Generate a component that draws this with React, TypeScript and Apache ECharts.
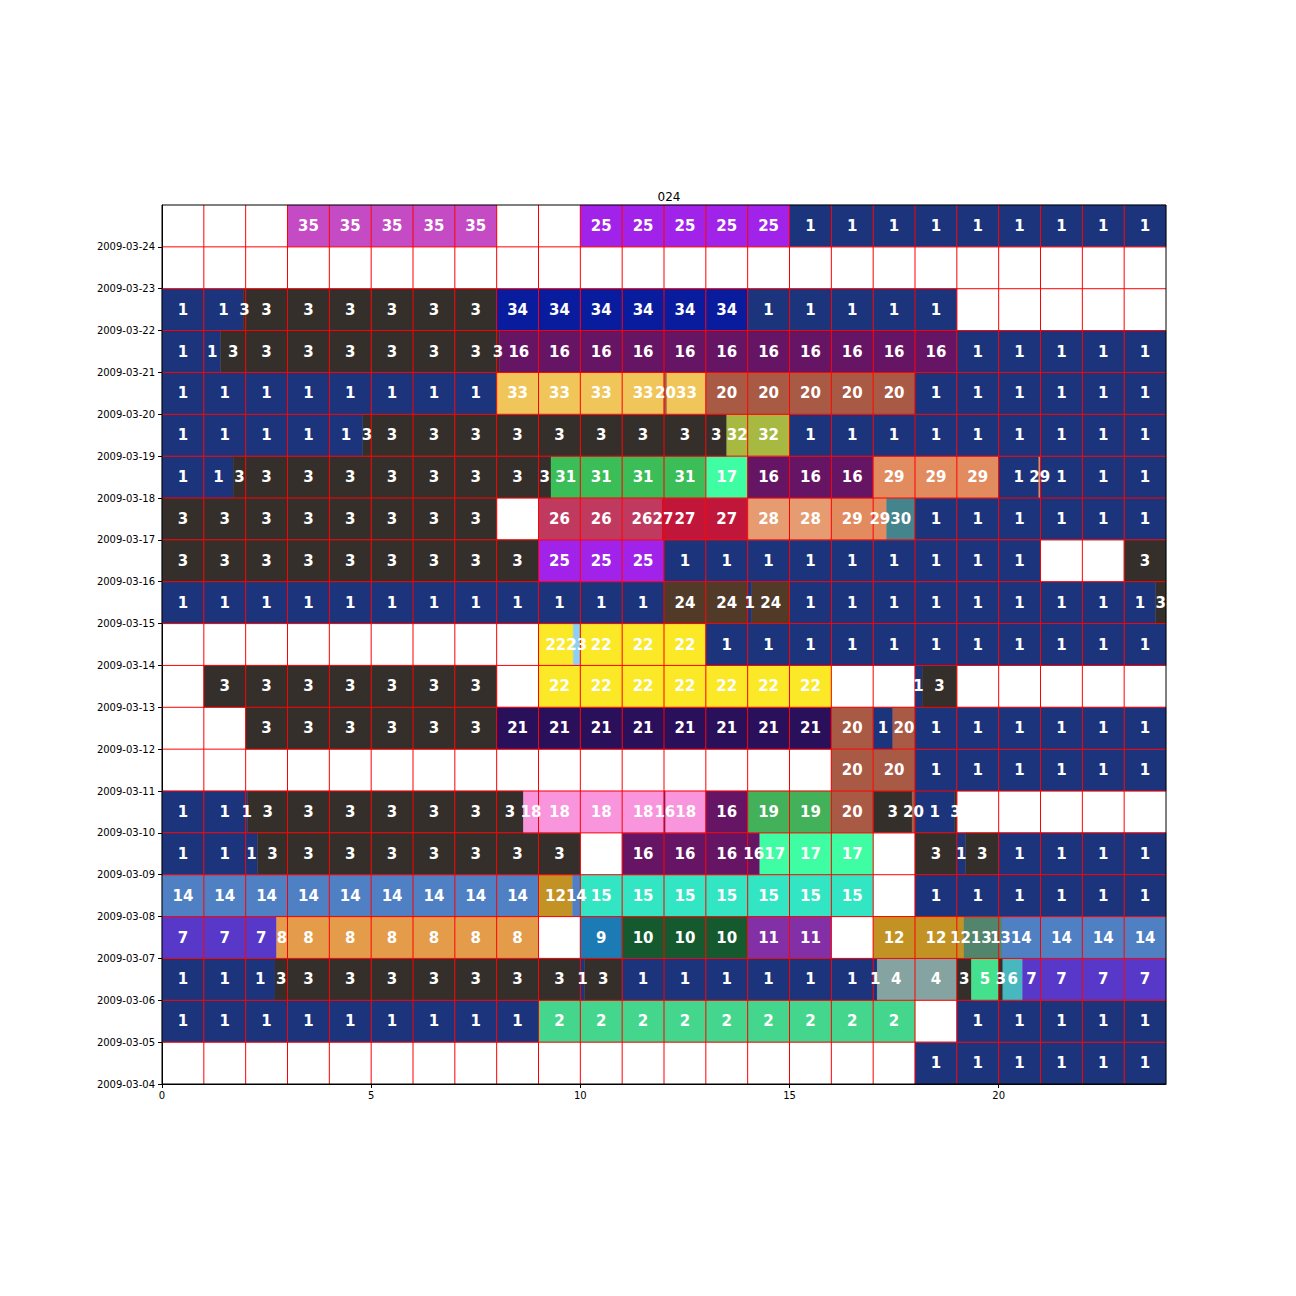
import React, { useEffect, useRef } from 'react';
import * as echarts from 'echarts';

// Row dates (each row spans from its date to the next day)
const dates = [
  '2009-03-04', '2009-03-05', '2009-03-06', '2009-03-07', '2009-03-08', '2009-03-09', '2009-03-10',
  '2009-03-11', '2009-03-12', '2009-03-13', '2009-03-14', '2009-03-15', '2009-03-16', '2009-03-17',
  '2009-03-18', '2009-03-19', '2009-03-20', '2009-03-21', '2009-03-22', '2009-03-23', '2009-03-24',
];

// Segments per day: [startHour, endHour, taskId]
const d0304: number[][] = [[18, 24, 1]];
const d0305: number[][] = [[0, 9, 1], [9, 18, 2], [19, 24, 1]];
const d0306: number[][] = [[0, 2.7, 1], [2.7, 10, 3], [10, 10.1, 1], [10.1, 11, 3], [11, 17.1, 1], [17.1, 19, 4], [19, 19.35, 3], [19.35, 20, 5], [20, 20.1, 3], [20.1, 20.57, 6], [20.57, 24, 7]];
const d0307: number[][] = [[0, 2.74, 7], [2.74, 9, 8], [10, 11, 9], [11, 14, 10], [14, 16, 11], [17, 19.17, 12], [19.17, 20.08, 13], [20.08, 24, 14]];
const d0308: number[][] = [[0, 9, 14], [9, 9.81, 12], [9.81, 10, 14], [10, 17, 15], [18, 24, 1]];
const d0309: number[][] = [[0, 2.28, 1], [2.28, 10, 3], [11, 14.29, 16], [14.29, 17, 17], [18, 19, 3], [19, 19.21, 1], [19.21, 20, 3], [20, 24, 1]];
const d0310: number[][] = [[0, 2.05, 1], [2.05, 8.64, 3], [8.64, 12, 18], [12, 12.04, 16], [12.04, 13, 18], [13, 14, 16], [14, 16, 19], [16, 17, 20], [17, 17.93, 3], [17.93, 18, 20], [18, 18.94, 1], [18.94, 19, 3]];
const d0311: number[][] = [[16, 18, 20], [18, 24, 1]];
const d0312: number[][] = [[2, 8, 3], [8, 16, 21], [16, 17, 20], [17, 17.47, 1], [17.47, 18, 20], [18, 24, 1]];
const d0313: number[][] = [[1, 8, 3], [9, 16, 22], [18, 18.17, 1], [18.17, 19, 3]];
const d0314: number[][] = [[9, 9.83, 22], [9.83, 10, 23], [10, 13, 22], [13, 24, 1]];
const d0315: number[][] = [[0, 12, 1], [12, 14, 24], [14, 14.1, 1], [14.1, 15, 24], [15, 23.75, 1], [23.75, 24, 3]];
const d0316: number[][] = [[0, 9, 3], [9, 12, 25], [12, 21, 1], [23, 24, 3]];
const d0317: number[][] = [[0, 8, 3], [9, 11.95, 26], [11.95, 14, 27], [14, 16, 28], [16, 17.32, 29], [17.32, 18, 30], [18, 24, 1]];
const d0318: number[][] = [[0, 1.7, 1], [1.7, 9.3, 3], [9.3, 13, 31], [13, 14, 17], [14, 17, 16], [17, 20, 29], [20, 20.96, 1], [20.96, 21, 29], [21, 24, 1]];
const d0319: number[][] = [[0, 4.8, 1], [4.8, 13.5, 3], [13.5, 15, 32], [15, 24, 1]];
const d0320: number[][] = [[0, 8, 1], [8, 12, 33], [12, 12.07, 20], [12.07, 13, 33], [13, 18, 20], [18, 24, 1]];
const d0321: number[][] = [[0, 1.4, 1], [1.4, 8.06, 3], [8.06, 19, 16], [19, 24, 1]];
const d0322: number[][] = [[0, 1.94, 1], [1.94, 8, 3], [8, 14, 34], [14, 19, 1]];
const d0323: number[][] = [];
const d0324: number[][] = [[3, 8, 35], [10, 15, 25], [15, 24, 1]];

const dayRows = [d0304, d0305, d0306, d0307, d0308, d0309, d0310, d0311, d0312, d0313, d0314,
  d0315, d0316, d0317, d0318, d0319, d0320, d0321, d0322, d0323, d0324];

const hourTicks = [0, 5, 10, 15, 20];
const titleText = '024';

const taskColors: Record<number, string> = {
  1: '#1c347c', 2: '#45d68e', 3: '#352f2b', 4: '#85a3a0', 5: '#44e08e', 6: '#47b8c0', 7: '#5838c8',
  8: '#e49c4a', 9: '#1c7ab4', 10: '#145a2e', 11: '#8330a6', 12: '#c39225', 13: '#53856d', 14: '#4f80c4',
  15: '#33e6c3', 16: '#661464', 17: '#3ffda2', 18: '#f895dc', 19: '#43b05a', 20: '#a95a45', 21: '#2a0f5a',
  22: '#fbe928', 23: '#8ecff5', 24: '#523a29', 25: '#a122e8', 26: '#c03a60', 27: '#c0163a', 28: '#e79b70',
  29: '#e18b5f', 30: '#44848c', 31: '#3bbd58', 32: '#a7b940', 33: '#f0c65a', 34: '#0a1c9e', 35: '#c44bc4',
};

function buildPieces(): number[][] {
  const out: number[][] = [];
  dayRows.forEach((segs, row) => {
    segs.forEach(([s, e, id]) => {
      let a = s;
      while (a < e - 1e-9) {
        const b = Math.min(e, Math.floor(a + 1e-9) + 1);
        out.push([a, b, row, id]);
        a = b;
      }
    });
  });
  return out;
}

export default function App() {
  const ref = useRef<HTMLDivElement>(null);
  useEffect(() => {
    if (!ref.current) return;
    const chart = echarts.init(ref.current, null, { renderer: 'svg' });
    const nRows = dates.length;
    const pieces = buildPieces();
    const gridData: number[][] = [];
    for (let h = 0; h <= 24; h++) gridData.push([0, h]);
    for (let d = 0; d <= nRows; d++) gridData.push([1, d]);
    const font = '"DejaVu Sans", sans-serif';

    chart.setOption({
      animation: false,
      backgroundColor: '#ffffff',
      title: {
        text: titleText,
        left: 664,
        textAlign: 'center',
        top: 186,
        textStyle: { fontSize: 12, fontWeight: 'normal', color: '#000', fontFamily: font },
      },
      grid: { left: 162, top: 205, width: 1004, height: 879, containLabel: false },
      xAxis: {
        type: 'value', min: 0, max: 24,
        axisLine: { show: true, lineStyle: { color: '#000', width: 1 } },
        axisTick: { show: true, length: 4, customValues: hourTicks, lineStyle: { color: '#000' } },
        axisLabel: { customValues: hourTicks, fontSize: 10, fontFamily: font, color: '#000', margin: 6 },
        splitLine: { show: false },
      },
      yAxis: {
        type: 'value', min: 0, max: nRows,
        axisLine: { show: true, lineStyle: { color: '#000', width: 1 } },
        axisTick: { show: true, length: 4, customValues: dates.map((_, i) => i), lineStyle: { color: '#000' } },
        axisLabel: {
          customValues: dates.map((_, i) => i),
          formatter: (v: number) => dates[Math.round(v)] ?? '',
          fontSize: 10, fontFamily: font, color: '#000', margin: 7,
        },
        splitLine: { show: false },
      },
      series: [
        {
          type: 'custom', z: 2, silent: true,
          encode: { x: [0, 1], y: 2 },
          data: pieces,
          renderItem: (_p: any, api: any) => {
            const s = api.value(0), e = api.value(1), r = api.value(2), id = api.value(3);
            const tl = api.coord([s, r + 1]);
            const br = api.coord([e, r]);
            const c = taskColors[id] || '#888';
            return {
              type: 'rect',
              shape: { x: tl[0], y: tl[1], width: br[0] - tl[0], height: br[1] - tl[1] },
              style: { fill: c, stroke: c, lineWidth: 0.4 },
            };
          },
        },
        {
          type: 'custom', z: 3, silent: true,
          data: gridData,
          renderItem: (_p: any, api: any) => {
            const t = api.value(0), v = api.value(1);
            let p0, p1, edge;
            if (t === 0) {
              p0 = api.coord([v, 0]); p1 = api.coord([v, nRows]);
              edge = v === 0 || v === 24;
            } else {
              p0 = api.coord([0, v]); p1 = api.coord([24, v]);
              edge = v === 0 || v === nRows;
            }
            return {
              type: 'line', z2: edge ? 2 : 1,
              shape: { x1: p0[0], y1: p0[1], x2: p1[0], y2: p1[1] },
              style: { stroke: edge ? '#000' : '#ff0000', lineWidth: 1 },
            };
          },
        },
        {
          type: 'custom', z: 4, silent: true,
          encode: { x: [0, 1], y: 2 },
          data: pieces,
          renderItem: (_p: any, api: any) => {
            const s = api.value(0), e = api.value(1), r = api.value(2), id = api.value(3);
            const c = api.coord([(s + e) / 2, r + 0.5]);
            return {
              type: 'text', x: c[0], y: c[1],
              style: {
                text: String(id), fill: '#ffffff',
                font: 'bold 15px "DejaVu Sans", sans-serif',
                align: 'center', verticalAlign: 'middle',
              },
            };
          },
        },
      ],
    });
    return () => chart.dispose();
  }, []);
  return <div ref={ref} style={{ position: 'absolute', left: 0, top: 0, width: 1296, height: 1296 }} />;
}
